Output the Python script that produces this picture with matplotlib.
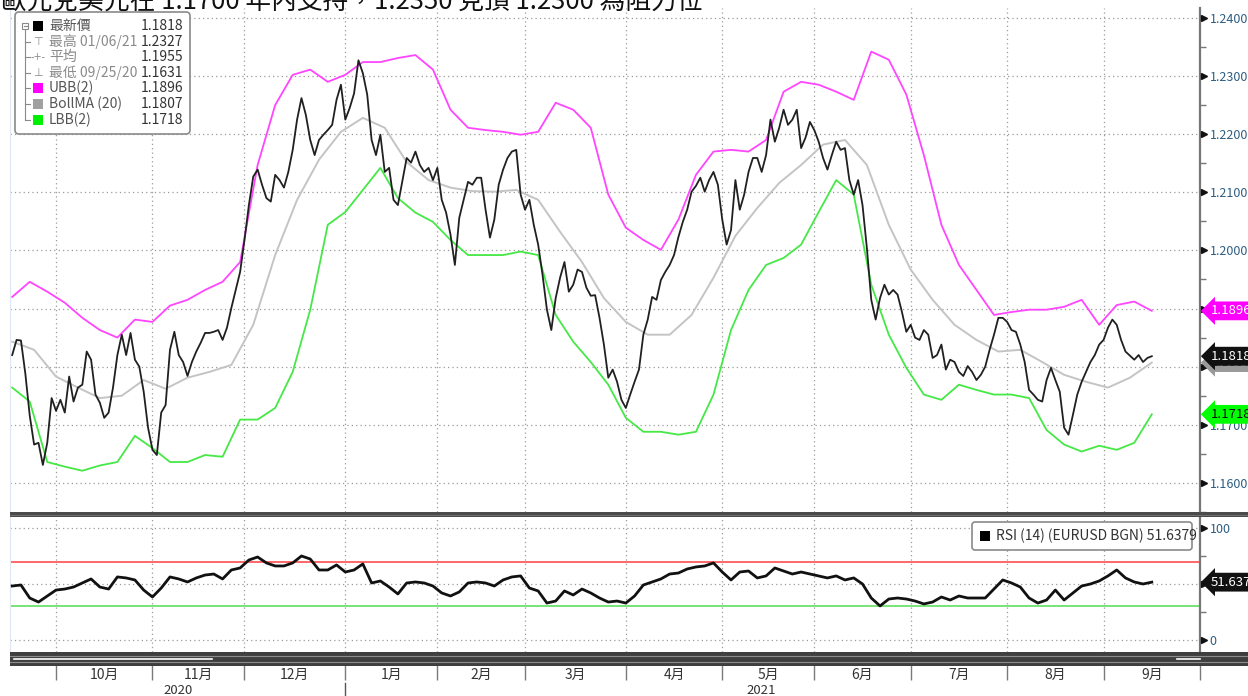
import numpy as np
import pandas as pd
import matplotlib
matplotlib.use('Agg')
import matplotlib.pyplot as plt
from matplotlib.patches import Rectangle, FancyBboxPatch
from matplotlib.transforms import blended_transform_factory, ScaledTranslation

plt.rcParams['font.family'] = ['Noto Sans CJK TC', 'DejaVu Sans']

title = '歐元兌美元在 1.1700 年內支持，1.2350 見頂 1.2300 為阻力位'

# EURUSD close, one value per weekday from 2020-09-17
price = [
    1.1820, 1.1846, 1.1845, 1.1788, 1.1716, 1.1666, 1.1669, 1.1631, 1.1669, 1.1746,
    1.1724, 1.1743, 1.1721, 1.1783, 1.1740, 1.1764, 1.1769, 1.1826, 1.1812, 1.1752,
    1.1738, 1.1712, 1.1721, 1.1764, 1.1820, 1.1855, 1.1820, 1.1858, 1.1812, 1.1800,
    1.1757, 1.1695, 1.1657, 1.1648, 1.1721, 1.1734, 1.1829, 1.1860, 1.1820, 1.1808,
    1.1784, 1.1808, 1.1826, 1.1841, 1.1858, 1.1858, 1.1860, 1.1863, 1.1846, 1.1867,
    1.1901, 1.1932, 1.1963, 1.2018, 1.2078, 1.2127, 1.2139, 1.2113, 1.2090, 1.2084,
    1.2130, 1.2121, 1.2108, 1.2135, 1.2173, 1.2225, 1.2262, 1.2233, 1.2190, 1.2164,
    1.2190, 1.2199, 1.2207, 1.2216, 1.2259, 1.2285, 1.2225, 1.2245, 1.2270, 1.2327,
    1.2305, 1.2268, 1.2190, 1.2164, 1.2199, 1.2135, 1.2142, 1.2087, 1.2078, 1.2118,
    1.2159, 1.2151, 1.2170, 1.2147, 1.2135, 1.2142, 1.2121, 1.2142, 1.2087, 1.2065,
    1.2027, 1.1975, 1.2056, 1.2087, 1.2118, 1.2113, 1.2125, 1.2125, 1.2070, 1.2022,
    1.2053, 1.2113, 1.2139, 1.2159, 1.2170, 1.2173, 1.2096, 1.2070, 1.2087, 1.2044,
    1.2010, 1.1958, 1.1898, 1.1863, 1.1918, 1.1953, 1.1980, 1.1929, 1.1941, 1.1967,
    1.1963, 1.1936, 1.1922, 1.1923, 1.1884, 1.1838, 1.1781, 1.1795, 1.1774, 1.1743,
    1.1729, 1.1752, 1.1774, 1.1795, 1.1855, 1.1881, 1.1920, 1.1915, 1.1949, 1.1963,
    1.1975, 1.1992, 1.2023, 1.2049, 1.2070, 1.2101, 1.2111, 1.2125, 1.2101, 1.2121,
    1.2135, 1.2113, 1.2053, 1.2010, 1.2035, 1.2121, 1.2070, 1.2096, 1.2135, 1.2159,
    1.2159, 1.2135, 1.2164, 1.2225, 1.2187, 1.2211, 1.2242, 1.2216, 1.2225, 1.2242,
    1.2176, 1.2194, 1.2221, 1.2207, 1.2187, 1.2159, 1.2139, 1.2164, 1.2187, 1.2173,
    1.2176, 1.2121, 1.2096, 1.2121, 1.2078, 1.2004, 1.1915, 1.1881, 1.1918, 1.1941,
    1.1924, 1.1932, 1.1924, 1.1894, 1.1860, 1.1872, 1.1850, 1.1846, 1.1863, 1.1855,
    1.1815, 1.1820, 1.1838, 1.1795, 1.1812, 1.1808, 1.1791, 1.1784, 1.1801, 1.1791,
    1.1777, 1.1786, 1.1800, 1.1829, 1.1855, 1.1884, 1.1884, 1.1877, 1.1863, 1.1860,
    1.1838, 1.1808, 1.1760, 1.1752, 1.1743, 1.1740, 1.1777, 1.1798, 1.1777, 1.1757,
    1.1695, 1.1683, 1.1717, 1.1752, 1.1774, 1.1791, 1.1808, 1.1820, 1.1838, 1.1846,
    1.1867, 1.1881, 1.1872, 1.1846, 1.1826, 1.1819, 1.1812, 1.1820, 1.1808, 1.1815,
    1.1818,
]

band_step = 4
ubb = [
    1.1920, 1.1946, 1.1929, 1.1910, 1.1884, 1.1863, 1.1850, 1.1881, 1.1877, 1.1905,
    1.1915, 1.1932, 1.1946, 1.1980, 1.2147, 1.2250, 1.2302, 1.2311, 1.2290, 1.2302,
    1.2324, 1.2324, 1.2331, 1.2336, 1.2311, 1.2242, 1.2211, 1.2207, 1.2204, 1.2199,
    1.2204, 1.2254, 1.2242, 1.2211, 1.2096, 1.2039, 1.2018, 1.2001, 1.2053, 1.2130,
    1.2170, 1.2173, 1.2170, 1.2190, 1.2273, 1.2290, 1.2285, 1.2273, 1.2259, 1.2342,
    1.2328, 1.2268, 1.2164, 1.2044, 1.1975, 1.1932, 1.1889, 1.1894, 1.1898, 1.1898,
    1.1903, 1.1915, 1.1872, 1.1906, 1.1912, 1.1896,
]
lbb = [
    1.1764, 1.1740, 1.1636, 1.1628, 1.1621, 1.1630, 1.1636, 1.1681, 1.1660, 1.1636,
    1.1636, 1.1648, 1.1645, 1.1709, 1.1709, 1.1729, 1.1791, 1.1898, 1.2044, 1.2066,
    1.2104, 1.2142, 1.2090, 1.2065, 1.2049, 1.2018, 1.1992, 1.1992, 1.1992, 1.1998,
    1.1992, 1.1889, 1.1843, 1.1808, 1.1769, 1.1712, 1.1688, 1.1688, 1.1683, 1.1688,
    1.1752, 1.1863, 1.1932, 1.1975, 1.1987, 1.2010, 1.2066, 1.2121, 1.2096, 1.1941,
    1.1855, 1.1798, 1.1752, 1.1743, 1.1769, 1.1760, 1.1752, 1.1752, 1.1746, 1.1691,
    1.1666, 1.1654, 1.1664, 1.1657, 1.1669, 1.1718,
]

# BollMA (20), every 5th weekday
ma_step = 5
bollma = [
    1.1843, 1.1829, 1.1783, 1.1764, 1.1746, 1.1750, 1.1777, 1.1762, 1.1781, 1.1791,
    1.1803, 1.1872, 1.1992, 1.2087, 1.2156, 1.2204, 1.2228, 1.2211, 1.2152, 1.2121,
    1.2108, 1.2102, 1.2101, 1.2104, 1.2087, 1.2032, 1.1980, 1.1918, 1.1877, 1.1855,
    1.1855, 1.1889, 1.1953, 1.2025, 1.2073, 1.2116, 1.2147, 1.2182, 1.2190, 1.2147,
    1.2044, 1.1967, 1.1915, 1.1872, 1.1846, 1.1826, 1.1829, 1.1808, 1.1786, 1.1774,
    1.1764, 1.1781, 1.1807,
]

# RSI (14), every 2nd weekday
rsi_step = 2
rsi = [
    48.2, 49.1, 37.5, 33.9, 39.3, 44.6, 45.5, 47.3, 50.9, 54.5,
    47.3, 45.5, 56.3, 55.4, 53.6, 44.6, 38.4, 46.4, 56.3, 54.5,
    51.8, 55.4, 58.0, 58.9, 54.5, 62.5, 64.3, 71.4, 74.1, 68.8,
    66.1, 66.1, 68.8, 75.0, 72.3, 62.5, 62.5, 67.0, 60.7, 62.5,
    67.9, 50.9, 52.7, 47.3, 41.1, 50.9, 51.8, 50.9, 48.2, 42.0,
    39.3, 42.9, 50.9, 51.8, 50.9, 48.2, 53.6, 56.3, 57.2, 46.4,
    43.8, 33.0, 34.8, 43.8, 40.2, 45.5, 42.0, 37.5, 33.9, 34.8,
    33.0, 39.3, 49.1, 51.8, 54.5, 58.9, 59.8, 63.4, 65.2, 66.1,
    68.8, 60.7, 53.6, 60.7, 61.6, 55.4, 57.2, 64.3, 61.6, 58.9,
    60.7, 58.9, 57.2, 55.4, 57.2, 53.6, 55.4, 50.0, 37.5, 30.4,
    36.6, 37.5, 36.6, 34.8, 32.2, 33.9, 38.4, 35.7, 39.3, 37.5,
    37.5, 37.5, 45.5, 53.6, 50.9, 47.3, 37.5, 33.0, 35.7, 44.6,
    35.7, 42.0, 48.2, 50.0, 52.7, 57.2, 62.5, 55.4, 51.8, 50.0,
    51.64,
]
rsi_hi, rsi_lo = 70, 30

legend_names = ['最新價', '最高 01/06/21', '平均', '最低 09/25/20', 'UBB(2)', 'BollMA (20)', 'LBB(2)']
legend_vals = ['1.1818', '1.2327', '1.1955', '1.1631', '1.1896', '1.1807', '1.1718']
rsi_label = 'RSI (14) (EURUSD BGN) 51.6379'

# ---- calendar / x positions (weekday index) ----
cal = pd.bdate_range('2020-09-17', '2021-10-31')
n = len(price)
x = np.arange(n)
xb = np.arange(0, n, band_step)
xm = np.arange(0, n, ma_step)
xr = np.arange(0, n, rsi_step)
starts = [i for i in range(1, len(cal)) if cal[i].month != cal[i - 1].month]
XMIN, XMAX = -0.5, 265.7

W, H = 1248, 696
fig = plt.figure(figsize=(W / 100, H / 100), dpi=100)
ax = fig.add_axes([10 / W, 1 - 512 / H, 1190 / W, 504 / H])
ar = fig.add_axes([10 / W, 1 - 652 / H, 1190 / W, 135 / H])

grid_kw = dict(color='#9a9a9a', lw=0.9, ls=(0, (1, 2.5)))
lab_col = '#2d5d82'

for a in (ax, ar):
    a.set_xlim(XMIN, XMAX)
    for s in ('top', 'bottom'):
        a.spines[s].set_visible(False)
    a.spines['left'].set_color('#dfe8f2')
    a.spines['right'].set_color('#777777')
    a.spines['right'].set_linewidth(1.6)
    a.set_xticks(starts)
    a.grid(True, which='major', **grid_kw)
    a.yaxis.tick_right()
    a.tick_params(axis='y', which='major', length=0, pad=7, labelsize=9, labelcolor=lab_col)
    a.tick_params(axis='y', which='minor', length=4, width=1, color='#777777', direction='out')

# main panel
ax.set_ylim(1.1550, 1.2417)
yt = np.round(np.arange(1.16, 1.2401, 0.01), 2)
ax.set_yticks(yt)
ax.set_yticklabels([f'{v:.4f}' for v in yt])
ax.set_yticks(np.round(np.arange(1.155, 1.2401, 0.01), 3), minor=True)
ax.tick_params(axis='x', length=0, labelbottom=False)

ax.plot(xb, ubb, color='#ff45ff', lw=1.3, zorder=3)
ax.plot(xb, lbb, color='#45e845', lw=1.3, zorder=3)
ax.plot(xm, bollma, color='#c4c4c4', lw=1.4, zorder=3)
ax.plot(x, price, color='#202020', lw=1.3, zorder=4)

# RSI panel
ar.set_ylim(-10.7, 109.8)
ar.set_yticks([0, 50, 100])
ar.set_yticklabels(['0', '50', '100'])
ar.set_yticks([25, 75], minor=True)
ar.axhline(rsi_hi, color='#ff5a5a', lw=1.3, zorder=2)
ar.axhline(rsi_lo, color='#6ce06c', lw=1.3, zorder=2)
ar.plot(xr, rsi, color='#111111', lw=2.0, zorder=4)

# month ticks + labels below the scroll strip
ar.tick_params(axis='x', which='major', length=20, width=1, color='#7a7a7a', labelbottom=False)
centers = [(starts[i] + starts[i + 1]) / 2 for i in range(len(starts) - 1)]
mlabels = [f'{cal[starts[i]].month}月' for i in range(len(starts) - 1)]
keep = [i for i, c in enumerate(centers) if c < XMAX]
ar.set_xticks([centers[i] for i in keep], minor=True)
ar.set_xticklabels([mlabels[i] for i in keep], minor=True)
ar.tick_params(axis='x', which='minor', length=0, pad=11.5, labelsize=10, labelcolor='#333333')

jan = [s for s in starts if cal[s].month == 1][0]
bt = blended_transform_factory(ar.transData, ar.transAxes)
for yr, c in zip(['2020', '2021'], [(XMIN + jan) / 2, (jan + XMAX) / 2]):
    ar.annotate(yr, xy=(c, 0), xycoords=bt, xytext=(0, -27.5), textcoords='offset points',
                ha='center', va='center', fontsize=9.5, color='#333333', annotation_clip=False)
ar.plot([jan, jan], [-31 / 135, -45 / 135], transform=bt, color='#555555', lw=1, clip_on=False)

# small right-pointing markers on the price scales
for a, ticks in ((ax, yt), (ar, [0, 50, 100])):
    tr = blended_transform_factory(a.transAxes, a.transData) + ScaledTranslation(3 / 72, 0, fig.dpi_scale_trans)
    a.plot(np.ones(len(ticks)), ticks, ls='none', marker='>', ms=5, color='#111111',
           transform=tr, clip_on=False, zorder=5)


def tag(a, val, txt, fc, tc, z):
    a.annotate(txt, xy=(1, val), xycoords=blended_transform_factory(a.transAxes, a.transData),
               xytext=(8, 0), textcoords='offset points', ha='left', va='center',
               fontsize=9.5, color=tc, zorder=z, annotation_clip=False,
               bbox=dict(boxstyle='larrow,pad=0.22', fc=fc, ec='none'))


tag(ax, ubb[-1], f'{ubb[-1]:.4f}', '#ff00ff', 'white', 6)
tag(ax, bollma[-1], f'{bollma[-1]:.4f}', '#9a9a9a', '#333333', 6)
tag(ax, price[-1], f'{price[-1]:.4f}', '#111111', 'white', 7)
tag(ax, lbb[-1], f'{lbb[-1]:.4f}', '#00ff00', '#111111', 6)
tag(ar, rsi[-1], '51.6379', '#111111', 'white', 6)

# overlay in pixel coordinates: separators, legend boxes, title
ov = fig.add_axes([0, 0, 1, 1])
ov.set_xlim(0, W)
ov.set_ylim(H, 0)
ov.axis('off')
ov.set_zorder(10)

ov.add_patch(Rectangle((10, 512), W - 10, 5, fc='#4b4b4b', ec='none'))
ov.plot([10, W], [514.5, 514.5], color='#777777', lw=0.6)
ov.add_patch(Rectangle((10, 652), W - 10, 14, fc='#3f3f3f', ec='none'))
ov.plot([10, W], [656, 656], color='#8c8c8c', lw=0.8)
ov.plot([10, W], [662, 662], color='#8c8c8c', lw=0.8)
ov.plot([14, 212], [659, 659], color='white', lw=1.2)
ov.plot([1177, 1200], [659, 659], color='white', lw=1.2)

fig.text(1 / W, 1 - 8 / H, title, fontsize=18.5, color='#111111', va='baseline', ha='left')

# price legend
ov.add_patch(FancyBboxPatch((15, 12), 175, 122, boxstyle='round,pad=0,rounding_size=4',
                            fc='white', ec='#8a8a8a', lw=1.2))
row_y = [26 + 15.6 * i for i in range(len(legend_names))]
sq_cols = {0: '#000000', 4: '#ff00ff', 5: '#a0a0a0', 6: '#00ee00'}
ov.plot([25, 25], [30, row_y[-1]], color='#8a8a8a', lw=0.8)
ov.add_patch(Rectangle((22, 23), 6, 6, fc='white', ec='#8a8a8a', lw=0.8))
ov.plot([23.5, 26.5], [26, 26], color='#8a8a8a', lw=0.8)
for i, (nm, val) in enumerate(zip(legend_names, legend_vals)):
    yy = row_y[i]
    if i > 0:
        ov.plot([25, 30], [yy, yy], color='#8a8a8a', lw=0.8)
    if i in sq_cols:
        ov.add_patch(Rectangle((33, yy - 5), 10, 10, fc=sq_cols[i], ec='none'))
    nc = '#555555' if i in sq_cols else '#8a8a8a'
    ov.text(49, yy, nm, fontsize=10, color=nc, va='center', ha='left')
    ov.text(183, yy, val, fontsize=10, color='#333333', va='center', ha='right')
ov.text(38, row_y[1], '⊤', fontsize=8, color='#8a8a8a', va='center', ha='center',
        family=['DejaVu Sans'])
ov.text(38, row_y[2], '-+-', fontsize=7, color='#8a8a8a', va='center', ha='center',
        family=['DejaVu Sans'])
ov.text(38, row_y[3], '⊥', fontsize=8, color='#8a8a8a', va='center', ha='center',
        family=['DejaVu Sans'])

# RSI legend
ov.add_patch(FancyBboxPatch((972, 522), 220, 28, boxstyle='round,pad=0,rounding_size=3',
                            fc='white', ec='#8a8a8a', lw=1.2))
ov.add_patch(Rectangle((980, 531), 10, 10, fc='#000000', ec='none'))
ov.text(996, 536, rsi_label, fontsize=10, color='#333333', va='center', ha='left')

fig.savefig('out.png', dpi=100)
